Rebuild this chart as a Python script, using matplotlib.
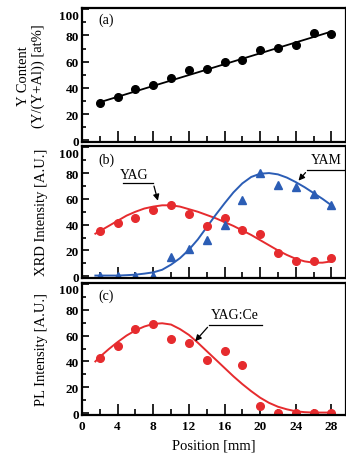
import matplotlib.pyplot as plt
import matplotlib.transforms as mtransforms
from matplotlib.ticker import MultipleLocator

plt.rcParams['font.family'] = 'Liberation Serif'

# positions [mm]
pos = [2, 4, 6, 8, 10, 12, 14, 16, 18, 20, 22, 24, 26, 28]

# (a) Y content
y_content = [28.5, 33, 39, 42, 47.5, 54, 54.5, 60, 61, 69, 70.5, 73, 82, 81.5]
fit_a_x = [2, 28]
fit_a_y = [29, 83]

# (b) XRD intensity
yag = [35, 41, 45, 51.5, 55, 48, 39, 45, 36, 33, 18, 12, 12, 14.5]
yam = [0, 0, 0, 0, 15, 21, 28, 40, 59, 80, 71, 69.5, 64, 55]
curve_x = [1.5, 2, 3, 4, 5, 6, 7, 8, 9, 10, 11, 12, 13, 14, 15, 16, 17, 18,
           19, 20, 21, 22, 23, 24, 25, 26, 27, 28]
yag_curve = [33, 35, 39, 43, 47, 50, 52.5, 54, 55, 55, 54, 52, 50, 47.5, 45,
             42, 39, 35.5, 32, 28, 24, 20, 16.5, 13.5, 11.5, 10.5, 10.5, 11.5]
yam_curve = [0.5, 0.5, 0.5, 0.5, 0.8, 1.2, 2, 3, 5, 9, 14, 20.5, 28.5, 38,
             47.5, 56.5, 65, 72, 77, 79.5, 80, 79, 76.5, 73, 69, 64.5, 60, 55]

# (c) PL intensity
pl = [42.5, 52, 65, 69, 57, 54, 41.5, 48, 37, 5.5, 0.5, 0, 0, 0.5]
pl_curve = [40, 43.5, 49.5, 55, 60, 64, 67, 69, 69.5, 68.5, 65, 60.5, 54.5,
            48, 41.5, 35, 28.5, 22.5, 17, 12, 8, 5, 3, 1.5, 0.8, 0.5, 0.5, 0.5]

red = '#e62b2e'
blue = '#2b5db5'

fig = plt.figure(figsize=(3.46, 4.56), dpi=100)
ax_a = fig.add_axes([0.237, 1 - 142.5 / 456, 0.762, 133.5 / 456])
ax_b = fig.add_axes([0.237, 1 - 278.5 / 456, 0.762, 131.5 / 456])
ax_c = fig.add_axes([0.237, 1 - 415.5 / 456, 0.762, 132 / 456])

for ax in (ax_a, ax_b, ax_c):
    ax.set_xlim(0, 29.6)
    ax.set_ylim(-1, 101)
    ax.xaxis.set_major_locator(MultipleLocator(4))
    ax.xaxis.set_minor_locator(MultipleLocator(2))
    ax.yaxis.set_major_locator(MultipleLocator(20))
    ax.yaxis.set_minor_locator(MultipleLocator(10))
    ax.tick_params(axis='x', which='major', direction='in', length=8, width=1.2)
    ax.tick_params(axis='x', which='minor', direction='in', length=4, width=1.2)
    ax.tick_params(axis='y', which='major', direction='in', length=5, width=1.2)
    ax.tick_params(axis='y', which='minor', direction='in', length=3, width=1.2)
    ax.tick_params(axis='y', labelsize=9.5, pad=2)
    ax.tick_params(axis='x', labelsize=9.5, pad=4)
    for sp in ax.spines.values():
        sp.set_linewidth(1.6)

ax_a.tick_params(labelbottom=False)
ax_b.tick_params(labelbottom=False)

# (a)
ax_a.plot(fit_a_x, fit_a_y, color='black', lw=1.3)
ax_a.plot(pos, y_content, 'o', color='black', ms=5.5)
ax_a.text(1.8, 90, '(a)', fontsize=10)
ax_a.set_ylabel('Y Content\n(Y/(Y+Al)) [at%]', fontsize=10.5, labelpad=10)

# (b)
ax_b.plot(curve_x, yag_curve, color=red, lw=1.4)
ax_b.plot(curve_x, yam_curve, color=blue, lw=1.4)
ax_b.plot(pos, yag, 'o', color=red, ms=5.5)
ax_b.plot(pos, yam, '^', color=blue, ms=5.5)
ax_b.text(1.8, 88, '(b)', fontsize=10)
ax_b.text(5.9, 79, 'YAG', fontsize=10, ha='center', va='center')
ax_b.plot([4.6, 8.0], [72, 72], color='black', lw=0.9)
ax_b.annotate('', xy=(8.6, 56.5), xytext=(8.0, 72),
              arrowprops=dict(arrowstyle='-|>', color='black', lw=0.9,
                              mutation_scale=9))
ax_b.text(27.4, 90.5, 'YAM', fontsize=10, ha='center', va='center')
ax_b.plot([25.3, 29.6], [82, 82], color='black', lw=0.9)
ax_b.annotate('', xy=(24.1, 72.5), xytext=(25.3, 82),
              arrowprops=dict(arrowstyle='-|>', color='black', lw=0.9,
                              mutation_scale=9))
ax_b.set_ylabel('XRD Intensity [A.U.]', fontsize=10.5, labelpad=8)

# (c)
ax_c.plot(curve_x, pl_curve, color=red, lw=1.4)
ax_c.plot(pos, pl, 'o', color=red, ms=5.5)
ax_c.text(1.8, 88, '(c)', fontsize=10)
ax_c.text(17.2, 76.5, 'YAG:Ce', fontsize=10, ha='center', va='center')
ax_c.plot([14.3, 20.2], [68, 68], color='black', lw=0.9)
ax_c.annotate('', xy=(12.5, 54), xytext=(14.3, 68),
              arrowprops=dict(arrowstyle='-|>', color='black', lw=0.9,
                              mutation_scale=9))
ax_c.set_ylabel('PL Intensity [A.U.]', fontsize=10.5, labelpad=8)
ax_c.set_xlabel('Position [mm]', fontsize=10.5, labelpad=5)

# bold tick labels; nudge the "100" label down like the reference
fig.canvas.draw()
shift = mtransforms.ScaledTranslation(0, -5 / 100, fig.dpi_scale_trans)
for ax in (ax_a, ax_b, ax_c):
    for lab in ax.get_yticklabels() + ax.get_xticklabels():
        lab.set_fontweight('bold')
    for tick in ax.yaxis.get_major_ticks():
        if abs(tick.get_loc() - 100) < 1e-6:
            tick.label1.set_transform(tick.label1.get_transform() + shift)

fig.savefig('out.png', dpi=100)
